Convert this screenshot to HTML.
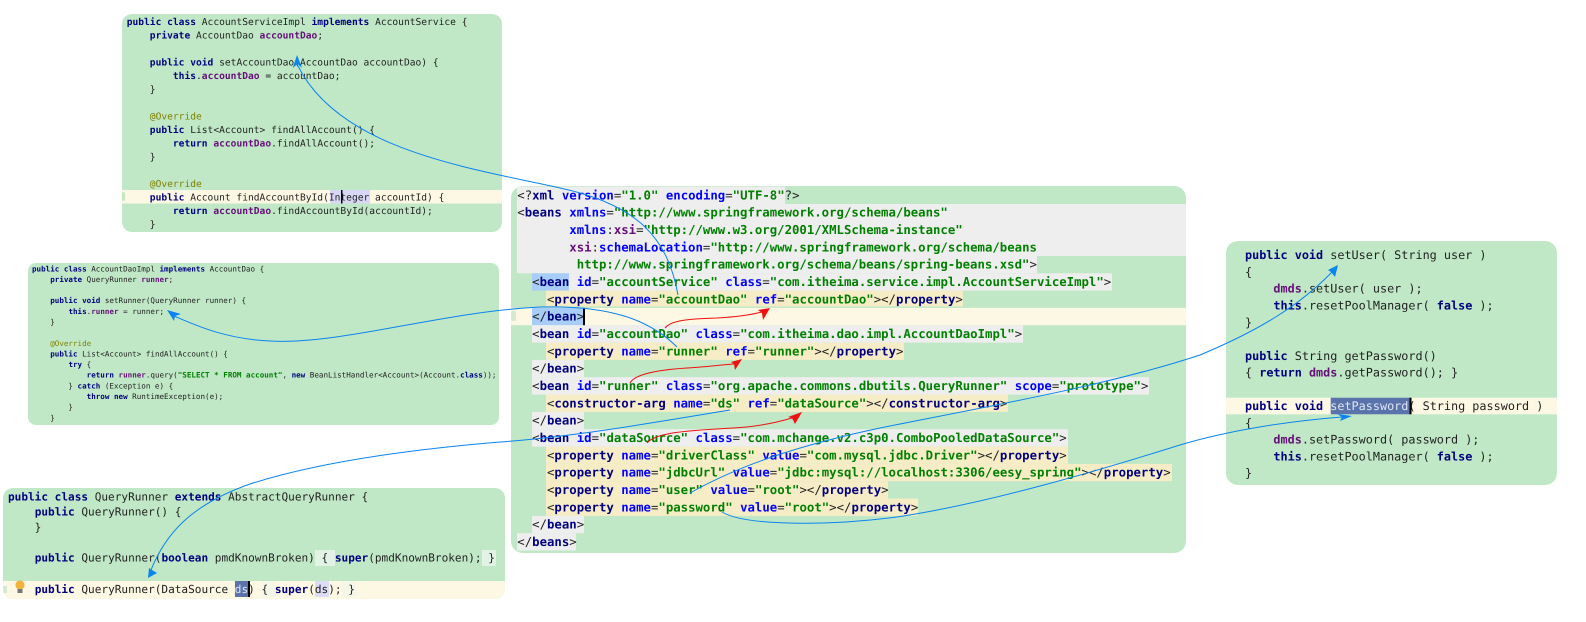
<!DOCTYPE html>
<html><head><meta charset="utf-8"><style>
html,body{margin:0;padding:0;background:#fff;width:1586px;height:622px;overflow:hidden}
svg{display:block}
text{font-family:"DejaVu Sans Mono","Liberation Mono",monospace;white-space:pre;fill:#222;text-rendering:geometricPrecision}
.p1{font-size:9.6px}.p2{font-size:7.57px}.p3{font-size:11.08px}.px{font-size:12.33px}.pr{font-size:11.81px}
.k{fill:#000080;font-weight:bold}.f{fill:#660e7a;font-weight:bold}.a{fill:#808000}.n{fill:#0000ff;font-weight:bold}
.v{fill:#008000;font-weight:bold}.t{fill:#000080;font-weight:bold}.x{fill:#660e7a;font-weight:bold}.s{fill:#dfe6f5}
.tx{filter:blur(.35px)}
</style></head><body>
<svg width="1586" height="622" viewBox="0 0 1586 622" xmlns="http://www.w3.org/2000/svg">
<defs>
<clipPath id="c3"><rect x="3" y="488" width="502" height="111" rx="10"/></clipPath>
<clipPath id="cx"><rect x="511" y="186" width="675" height="367" rx="12"/></clipPath>
<clipPath id="cr"><rect x="1226" y="241" width="331" height="244" rx="12"/></clipPath>
</defs>

<!-- panels -->
<rect x="122" y="14" width="380" height="218" rx="10" fill="#c0e8c6"/>
<rect x="28" y="263" width="471" height="162" rx="8" fill="#c0e8c6"/>
<rect x="3" y="488" width="502" height="111" rx="10" fill="#c0e8c6"/>
<rect x="511" y="186" width="675" height="367" rx="12" fill="#c0e8c6"/>
<rect x="1226" y="241" width="331" height="244" rx="12" fill="#c0e8c6"/>

<!-- panel 1 highlights -->
<rect x="122" y="190" width="380" height="13.5" fill="#fdf8e4"/>
<rect x="330" y="190" width="40" height="13.5" fill="#d8d8f6"/>
<rect x="122" y="192" width="3" height="9" rx="1.5" fill="#c8e6c0"/>

<!-- panel 3 highlights -->
<g clip-path="url(#c3)">
<rect x="3" y="581" width="502" height="18" fill="#fdf8e4"/>
<rect x="315" y="550" width="20" height="16" fill="#e2f2e4"/>
<rect x="482" y="550" width="14" height="16" fill="#e2f2e4"/>
<rect x="235" y="581" width="13" height="16" fill="#5a74ab"/>
<rect x="315" y="581" width="14" height="16" fill="#dcdcf4"/>
<rect x="262" y="581" width="14" height="16" fill="#f4f6e8"/>
<rect x="342" y="581" width="14" height="16" fill="#f4f6e8"/>
<rect x="3" y="586" width="4" height="7" fill="#d6ead2"/>
</g>

<!-- xml highlights -->
<g clip-path="url(#cx)">
<rect x="517" y="186.6" width="268" height="17.4" fill="#eee"/>
<rect x="517" y="204" width="669" height="52" fill="#eee"/>
<rect x="517" y="255.9" width="520" height="17.4" fill="#eee"/>
<rect x="569" y="273.3" width="543" height="17.3" fill="#eee"/>
<rect x="532" y="273.3" width="37" height="17.3" fill="#a8cdf8"/>
<rect x="546" y="290.6" width="417" height="15.8" fill="#f6ecc6"/>
<rect x="511" y="307.9" width="675" height="17.3" fill="#fdf8e4"/>
<rect x="532" y="307.9" width="52" height="17.3" fill="#a8cdf8"/>
<rect x="532" y="325.2" width="491" height="17.4" fill="#eee"/>
<rect x="546" y="342.6" width="358" height="17.3" fill="#f6ecc6"/>
<rect x="532" y="359.9" width="52" height="17.3" fill="#eee"/>
<rect x="532" y="377.2" width="617" height="17.4" fill="#eee"/>
<rect x="546" y="394.6" width="462" height="17.3" fill="#f6ecc6"/>
<rect x="532" y="411.9" width="52" height="17.3" fill="#eee"/>
<rect x="532" y="429.2" width="536" height="17.4" fill="#eee"/>
<rect x="546" y="446.6" width="522" height="17.3" fill="#f6ecc6"/>
<rect x="546" y="463.9" width="626" height="17.3" fill="#f6ecc6"/>
<rect x="546" y="481.2" width="342" height="17.4" fill="#f6ecc6"/>
<rect x="546" y="498.6" width="372" height="17.3" fill="#f6ecc6"/>
<rect x="532" y="515.9" width="52" height="17.3" fill="#eee"/>
<rect x="517" y="533.2" width="59" height="17.3" fill="#eee"/>
<rect x="511" y="311" width="5" height="10" rx="2" fill="#d6ead2"/>
</g>

<!-- right highlights -->
<g clip-path="url(#cr)">
<rect x="1226" y="397.7" width="331" height="16.6" fill="#fdf8e4"/>
<rect x="1330.7" y="397.7" width="79.3" height="16.6" fill="#5a74ab"/>
</g>

<g class="tx">
<!-- panel 1 -->
<g class="p1">
<text x="126.7" y="25.2"><tspan class="k">public class</tspan> AccountServiceImpl <tspan class="k">implements</tspan> AccountService {</text>
<text x="126.7" y="38.7">    <tspan class="k">private</tspan> AccountDao <tspan class="f">accountDao</tspan>;</text>
<text x="126.7" y="65.7">    <tspan class="k">public void</tspan> setAccountDao(AccountDao accountDao) {</text>
<text x="126.7" y="79.2">        <tspan class="k">this</tspan>.<tspan class="f">accountDao</tspan> = accountDao;</text>
<text x="126.7" y="92.7">    }</text>
<text x="126.7" y="119.7">    <tspan class="a">@Override</tspan></text>
<text x="126.7" y="133.2">    <tspan class="k">public</tspan> List&lt;Account&gt; findAllAccount() {</text>
<text x="126.7" y="146.7">        <tspan class="k">return</tspan> <tspan class="f">accountDao</tspan>.findAllAccount();</text>
<text x="126.7" y="160.2">    }</text>
<text x="126.7" y="187.2">    <tspan class="a">@Override</tspan></text>
<text x="126.7" y="200.7">    <tspan class="k">public</tspan> Account findAccountById(Integer accountId) {</text>
<text x="126.7" y="214.2">        <tspan class="k">return</tspan> <tspan class="f">accountDao</tspan>.findAccountById(accountId);</text>
<text x="126.7" y="227.7">    }</text>
</g>
<!-- panel 2 -->
<g class="p2">
<text x="32" y="271.3"><tspan class="k">public class</tspan> AccountDaoImpl <tspan class="k">implements</tspan> AccountDao {</text>
<text x="32" y="281.9">    <tspan class="k">private</tspan> QueryRunner <tspan class="f">runner</tspan>;</text>
<text x="32" y="303.2">    <tspan class="k">public void</tspan> setRunner(QueryRunner runner) {</text>
<text x="32" y="313.9">        <tspan class="k">this</tspan>.<tspan class="f">runner</tspan> = runner;</text>
<text x="32" y="324.5">    }</text>
<text x="32" y="345.8">    <tspan class="a">@Override</tspan></text>
<text x="32" y="356.4">    <tspan class="k">public</tspan> List&lt;Account&gt; findAllAccount() {</text>
<text x="32" y="367.1">        <tspan class="k">try</tspan> {</text>
<text x="32" y="377.7">            <tspan class="k">return</tspan> <tspan class="f">runner</tspan>.query(<tspan class="v">"SELECT * FROM account"</tspan>, <tspan class="k">new</tspan> BeanListHandler&lt;Account&gt;(Account.<tspan class="k">class</tspan>));</text>
<text x="32" y="388.4">        } <tspan class="k">catch</tspan> (Exception e) {</text>
<text x="32" y="399">            <tspan class="k">throw new</tspan> RuntimeException(e);</text>
<text x="32" y="409.7">        }</text>
<text x="32" y="420.3">    }</text>
</g>
<!-- panel 3 -->
<g class="p3">
<text x="8" y="500.4"><tspan class="k">public class</tspan> QueryRunner <tspan class="k">extends</tspan> AbstractQueryRunner {</text>
<text x="8" y="515.4">    <tspan class="k">public</tspan> QueryRunner() {</text>
<text x="8" y="530.8">    }</text>
<text x="8" y="561.7">    <tspan class="k">public</tspan> QueryRunner(<tspan class="k">boolean</tspan> pmdKnownBroken) { <tspan class="k">super</tspan>(pmdKnownBroken); }</text>
<text x="8" y="593">    <tspan class="k">public</tspan> QueryRunner(DataSource <tspan class="s">ds</tspan>) { <tspan class="k">super</tspan>(ds); }</text>
</g>
<!-- xml -->
<g class="px">
<text x="517.3" y="199.4">&lt;?<tspan class="t">xml</tspan> <tspan class="n">version</tspan>=<tspan class="v">"1.0"</tspan> <tspan class="n">encoding</tspan>=<tspan class="v">"UTF-8"</tspan>?&gt;</text>
<text x="517.3" y="216.7">&lt;<tspan class="t">beans</tspan> <tspan class="n">xmlns</tspan>=<tspan class="v">"http://www.springframework.org/schema/beans"</tspan></text>
<text x="517.3" y="234.1">       <tspan class="n">xmlns</tspan>:<tspan class="x">xsi</tspan>=<tspan class="v">"http://www.w3.org/2001/XMLSchema-instance"</tspan></text>
<text x="517.3" y="251.4">       <tspan class="x">xsi</tspan>:<tspan class="n">schemaLocation</tspan>=<tspan class="v">"http://www.springframework.org/schema/beans</tspan></text>
<text x="517.3" y="268.7">        <tspan class="v">http://www.springframework.org/schema/beans/spring-beans.xsd"</tspan>&gt;</text>
<text x="517.3" y="286.1">  &lt;<tspan class="t">bean</tspan> <tspan class="n">id</tspan>=<tspan class="v">"accountService"</tspan> <tspan class="n">class</tspan>=<tspan class="v">"com.itheima.service.impl.AccountServiceImpl"</tspan>&gt;</text>
<text x="517.3" y="303.4">    &lt;<tspan class="t">property</tspan> <tspan class="n">name</tspan>=<tspan class="v">"accountDao"</tspan> <tspan class="n">ref</tspan>=<tspan class="v">"accountDao"</tspan>&gt;&lt;/<tspan class="t">property</tspan>&gt;</text>
<text x="517.3" y="320.7">  &lt;/<tspan class="t">bean</tspan>&gt;</text>
<text x="517.3" y="338">  &lt;<tspan class="t">bean</tspan> <tspan class="n">id</tspan>=<tspan class="v">"accountDao"</tspan> <tspan class="n">class</tspan>=<tspan class="v">"com.itheima.dao.impl.AccountDaoImpl"</tspan>&gt;</text>
<text x="517.3" y="355.4">    &lt;<tspan class="t">property</tspan> <tspan class="n">name</tspan>=<tspan class="v">"runner"</tspan> <tspan class="n">ref</tspan>=<tspan class="v">"runner"</tspan>&gt;&lt;/<tspan class="t">property</tspan>&gt;</text>
<text x="517.3" y="372.7">  &lt;/<tspan class="t">bean</tspan>&gt;</text>
<text x="517.3" y="390">  &lt;<tspan class="t">bean</tspan> <tspan class="n">id</tspan>=<tspan class="v">"runner"</tspan> <tspan class="n">class</tspan>=<tspan class="v">"org.apache.commons.dbutils.QueryRunner"</tspan> <tspan class="n">scope</tspan>=<tspan class="v">"prototype"</tspan>&gt;</text>
<text x="517.3" y="407.4">    &lt;<tspan class="t">constructor-arg</tspan> <tspan class="n">name</tspan>=<tspan class="v">"ds"</tspan> <tspan class="n">ref</tspan>=<tspan class="v">"dataSource"</tspan>&gt;&lt;/<tspan class="t">constructor-arg</tspan>&gt;</text>
<text x="517.3" y="424.7">  &lt;/<tspan class="t">bean</tspan>&gt;</text>
<text x="517.3" y="442">  &lt;<tspan class="t">bean</tspan> <tspan class="n">id</tspan>=<tspan class="v">"dataSource"</tspan> <tspan class="n">class</tspan>=<tspan class="v">"com.mchange.v2.c3p0.ComboPooledDataSource"</tspan>&gt;</text>
<text x="517.3" y="459.4">    &lt;<tspan class="t">property</tspan> <tspan class="n">name</tspan>=<tspan class="v">"driverClass"</tspan> <tspan class="n">value</tspan>=<tspan class="v">"com.mysql.jdbc.Driver"</tspan>&gt;&lt;/<tspan class="t">property</tspan>&gt;</text>
<text x="517.3" y="476.7">    &lt;<tspan class="t">property</tspan> <tspan class="n">name</tspan>=<tspan class="v">"jdbcUrl"</tspan> <tspan class="n">value</tspan>=<tspan class="v">"jdbc:mysql://localhost:3306/eesy_spring"</tspan>&gt;&lt;/<tspan class="t">property</tspan>&gt;</text>
<text x="517.3" y="494">    &lt;<tspan class="t">property</tspan> <tspan class="n">name</tspan>=<tspan class="v">"user"</tspan> <tspan class="n">value</tspan>=<tspan class="v">"root"</tspan>&gt;&lt;/<tspan class="t">property</tspan>&gt;</text>
<text x="517.3" y="511.4">    &lt;<tspan class="t">property</tspan> <tspan class="n">name</tspan>=<tspan class="v">"password"</tspan> <tspan class="n">value</tspan>=<tspan class="v">"root"</tspan>&gt;&lt;/<tspan class="t">property</tspan>&gt;</text>
<text x="517.3" y="528.7">  &lt;/<tspan class="t">bean</tspan>&gt;</text>
<text x="517.3" y="546">&lt;/<tspan class="t">beans</tspan>&gt;</text>
</g>
<!-- right -->
<g class="pr">
<text x="1245" y="259.2"><tspan class="k">public void</tspan> setUser( String user )</text>
<text x="1245" y="276">{</text>
<text x="1245" y="292.7">    <tspan class="f">dmds</tspan>.setUser( user );</text>
<text x="1245" y="309.5">    <tspan class="k">this</tspan>.resetPoolManager( <tspan class="k">false</tspan> );</text>
<text x="1245" y="326.3">}</text>
<text x="1245" y="359.8"><tspan class="k">public</tspan> String getPassword()</text>
<text x="1245" y="376.6">{ <tspan class="k">return</tspan> <tspan class="f">dmds</tspan>.getPassword(); }</text>
<text x="1245" y="410.1"><tspan class="k">public void</tspan> <tspan class="s">setPassword</tspan>( String password )</text>
<text x="1245" y="426.9">{</text>
<text x="1245" y="443.7">    <tspan class="f">dmds</tspan>.setPassword( password );</text>
<text x="1245" y="460.5">    <tspan class="k">this</tspan>.resetPoolManager( <tspan class="k">false</tspan> );</text>
<text x="1245" y="477.2">}</text>
</g>
</g>

<!-- carets and bulb -->
<rect x="341" y="190" width="1.5" height="13.5" fill="#000"/>
<rect x="248" y="581" width="2" height="16" fill="#000"/>
<rect x="583" y="307.9" width="2" height="17.3" fill="#000"/>
<rect x="1409.5" y="397.7" width="2" height="16.6" fill="#000"/>
<circle cx="20" cy="585" r="4.6" fill="#f2b33d"/>
<rect x="17.5" y="589" width="5" height="4" fill="#777"/>

<!-- connectors -->
<g fill="none" stroke="#0a84f0" stroke-width="1">
<path d="M678 295 C668 240 640 205 560 188 C470 168 340 150 298 66"/>
<path d="M677 347 C650 320 610 305 540 307 C440 312 340 345 270 341 C225 339 195 325 174 316"/>
<path d="M730 410 C640 425 570 437 500 442 C380 452 300 468 250 484 C190 505 165 535 151 570"/>
<path d="M690 493 C740 465 800 445 880 428 C980 408 1110 385 1200 355 C1260 330 1300 305 1332 272"/>
<path d="M722 512 C745 526 830 526 897 517 C990 503 1100 470 1180 445 C1230 430 1290 421 1342 417"/>
</g>
<g fill="#0a84f0">
<polygon points="297,55 292.7,68 297.5,64 302,68"/>
<polygon points="167,310 174,321 175,316 181,314"/>
<polygon points="148,578 149,568 152,570 157,573"/>
<polygon points="1338,265 1328,270 1331,272 1335,277"/>
<polygon points="1352,416 1337,414 1342,417 1340,421"/>
</g>
<g fill="none" stroke="#f01010" stroke-width="1">
<path d="M665 328 C670 322 680 319 717 318 C735 317 750 315 762 312"/>
<path d="M630 383 C634 375 655 370 687 368 C705 367 720 365 734 364"/>
<path d="M647 443 C655 434 675 431 733 428 C755 427 775 423 792 418"/>
</g>
<g fill="#f01010">
<polygon points="770,308 758,310 762,313 763,320"/>
<polygon points="742,359 731,362 734,364 735,370"/>
<polygon points="802,412 788,417 792,418 795,424"/>
</g>
</svg>
</body></html>
